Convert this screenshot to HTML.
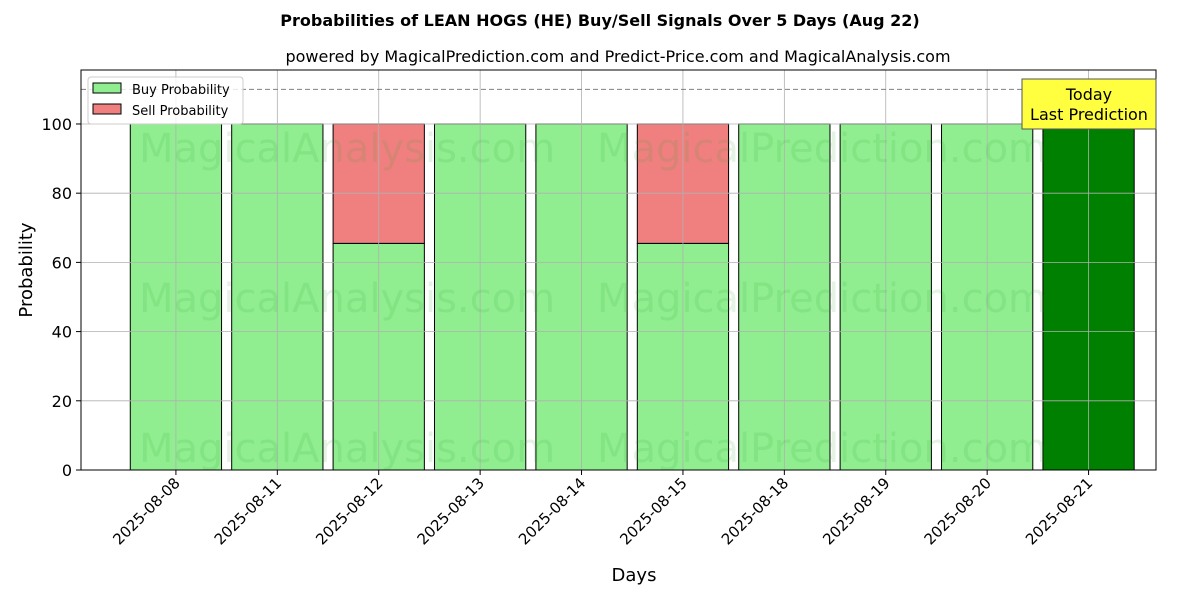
<!DOCTYPE html>
<html><head><meta charset="utf-8"><style>body{margin:0;background:#fff}svg{font-family:"DejaVu Sans","Liberation Sans",sans-serif}</style></head>
<body>
<svg id="chart" width="1200" height="600" xmlns="http://www.w3.org/2000/svg">
<rect width="1200" height="600" fill="#fff"/>
<text x="600" y="26" text-anchor="middle" font-size="16" font-weight="bold">Probabilities of LEAN HOGS (HE) Buy/Sell Signals Over 5 Days (Aug 22)</text>
<text x="618" y="62" text-anchor="middle" font-size="16">powered by MagicalPrediction.com and Predict-Price.com and MagicalAnalysis.com</text>
<g id="bars"></g>
<g id="grid"></g>
<g id="wm" font-size="40" fill="#2ca02c" fill-opacity="0.13" text-anchor="middle">
<text x="347" y="162">MagicalAnalysis.com</text>
<text x="822" y="162">MagicalPrediction.com</text>
<text x="347" y="312">MagicalAnalysis.com</text>
<text x="822" y="312">MagicalPrediction.com</text>
<text x="347" y="462">MagicalAnalysis.com</text>
<text x="822" y="462">MagicalPrediction.com</text>
</g>
<line x1="81" x2="1156" y1="89.4" y2="89.4" stroke="#808080" stroke-dasharray="5,3"/>
<g id="ticks"></g>
<rect x="81" y="70" width="1075" height="400" fill="none" stroke="#000"/>
<text x="634" y="581" text-anchor="middle" font-size="18">Days</text>
<text transform="translate(32,270) rotate(-90)" text-anchor="middle" font-size="18">Probability</text>
<g>
<rect x="1022" y="79" width="134" height="50" fill="#ffff40" stroke="#555"/>
<text x="1089" y="100" text-anchor="middle" font-size="16">Today</text>
<text x="1089" y="120" text-anchor="middle" font-size="16">Last Prediction</text>
</g>
<g>
<rect x="88" y="77" width="155" height="47" rx="3" fill="#fff" fill-opacity="0.8" stroke="#ccc"/>
<rect x="93" y="83" width="28" height="10" fill="#90ee90" stroke="#000"/>
<text x="132" y="94" font-size="13">Buy Probability</text>
<rect x="93" y="104" width="28" height="10" fill="#f08080" stroke="#000"/>
<text x="132" y="115" font-size="13">Sell Probability</text>
</g>
</svg>
<script>
const categories=["2025-08-08","2025-08-11","2025-08-12","2025-08-13","2025-08-14","2025-08-15","2025-08-18","2025-08-19","2025-08-20","2025-08-21"];
const buyValues=[100,100,65.5,100,100,65.5,100,100,100,100];
const sellValues=[0,0,34.5,0,0,34.5,0,0,0,0];
const yTicks=[0,20,40,60,80,100];
const NS="http://www.w3.org/2000/svg";
const X0=81,X1=1156,Y0=470,Y1=70,xmin=-0.936,xmax=9.665,ymax=115.6;
const x=i=>X0+(i-xmin)/(xmax-xmin)*(X1-X0);
const y=v=>Y0-v/ymax*(Y0-Y1);
const bw=0.9*(X1-X0)/(xmax-xmin);
function mk(tag,attrs,parent){const e=document.createElementNS(NS,tag);for(const k in attrs)e.setAttribute(k,attrs[k]);parent.appendChild(e);return e;}
const bars=document.getElementById('bars'),grid=document.getElementById('grid'),ticks=document.getElementById('ticks');
categories.forEach((c,i)=>{
  const last=i===categories.length-1;
  const b=mk('rect',{x:x(i)-bw/2,y:y(buyValues[i]),width:bw,height:y(0)-y(buyValues[i]),fill:last?'#008000':'#90ee90',stroke:'#000'},bars);
  
  
  if(sellValues[i]>0){
    const s=mk('rect',{x:x(i)-bw/2,y:y(buyValues[i]+sellValues[i]),width:bw,height:y(buyValues[i])-y(buyValues[i]+sellValues[i]),fill:'#f08080',stroke:'#000'},bars);
    
    
  }
  const g=mk('line',{x1:x(i),x2:x(i),y1:Y1,y2:Y0,stroke:'#b0b0b0','stroke-width':0.8},grid);
  
  
  mk('line',{x1:x(i),x2:x(i),y1:Y0,y2:Y0+5,stroke:'#000'},ticks);
  const t=mk('text',{transform:`translate(${x(i)+5},${Y0+14}) rotate(-45)`,'text-anchor':'end','font-size':15},ticks);
  t.textContent=c;
  
  
});
yTicks.forEach(v=>{
  const g=mk('line',{x1:X0,x2:X1,y1:y(v),y2:y(v),stroke:'#b0b0b0','stroke-width':0.8},grid);
  
  
  mk('line',{x1:X0-5,x2:X0,y1:y(v),y2:y(v),stroke:'#000'},ticks);
  const t=mk('text',{x:X0-9,y:y(v)+6,'text-anchor':'end','font-size':16},ticks);
  t.textContent=v;
  
  
});
</script>
</body></html>
